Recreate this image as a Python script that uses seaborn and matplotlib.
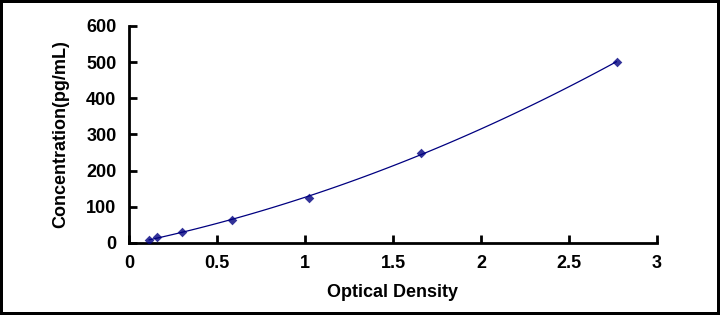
import numpy as np
import pandas as pd
import matplotlib.pyplot as plt
import seaborn as sns

od = [0.114, 0.159, 0.300, 0.585, 1.023, 1.660, 2.770]
conc = [7.8, 15.6, 31.25, 62.5, 125, 250, 500]
x_ticks = [0, 0.5, 1, 1.5, 2, 2.5, 3]
y_ticks = [0, 100, 200, 300, 400, 500, 600]

df = pd.DataFrame({'od': od, 'conc': conc})

sns.set_theme(style="white")
plt.rcParams['font.family'] = ['Liberation Sans', 'DejaVu Sans']

fig = plt.figure(figsize=(7.2, 3.15), dpi=100, edgecolor='black', linewidth=3)
ax = fig.add_axes([0.179, 0.2286, 0.7335, 0.689])

# quadratic standard curve through the points
sns.regplot(data=df, x='od', y='conc', order=2, ci=None, ax=ax,
            marker='D', color='#000080',
            scatter_kws={'s': 24, 'linewidths': 0, 'zorder': 3},
            line_kws={'linewidth': 0.9})

ax.set_xlim(0, 3)
ax.set_ylim(0, 600)
ax.set_xticks(x_ticks)
ax.set_xticklabels([f'{t:g}' for t in x_ticks])
ax.set_yticks(y_ticks)
ax.tick_params(direction='in', length=6, width=2, color='black',
               labelsize=13, labelcolor='black', bottom=True, left=True, pad=9)
for lab in ax.get_xticklabels() + ax.get_yticklabels():
    lab.set_fontweight('bold')

sns.despine(ax=ax)
for s in ['left', 'bottom']:
    ax.spines[s].set_color('black')
    ax.spines[s].set_linewidth(2)

ax.set_xlabel('Optical Density', fontsize=13, fontweight='bold', color='black', labelpad=8)
ax.set_ylabel('Concentration(pg/mL)', fontsize=13, fontweight='bold', color='black', labelpad=12)

fig.savefig("out.png", dpi=100)
